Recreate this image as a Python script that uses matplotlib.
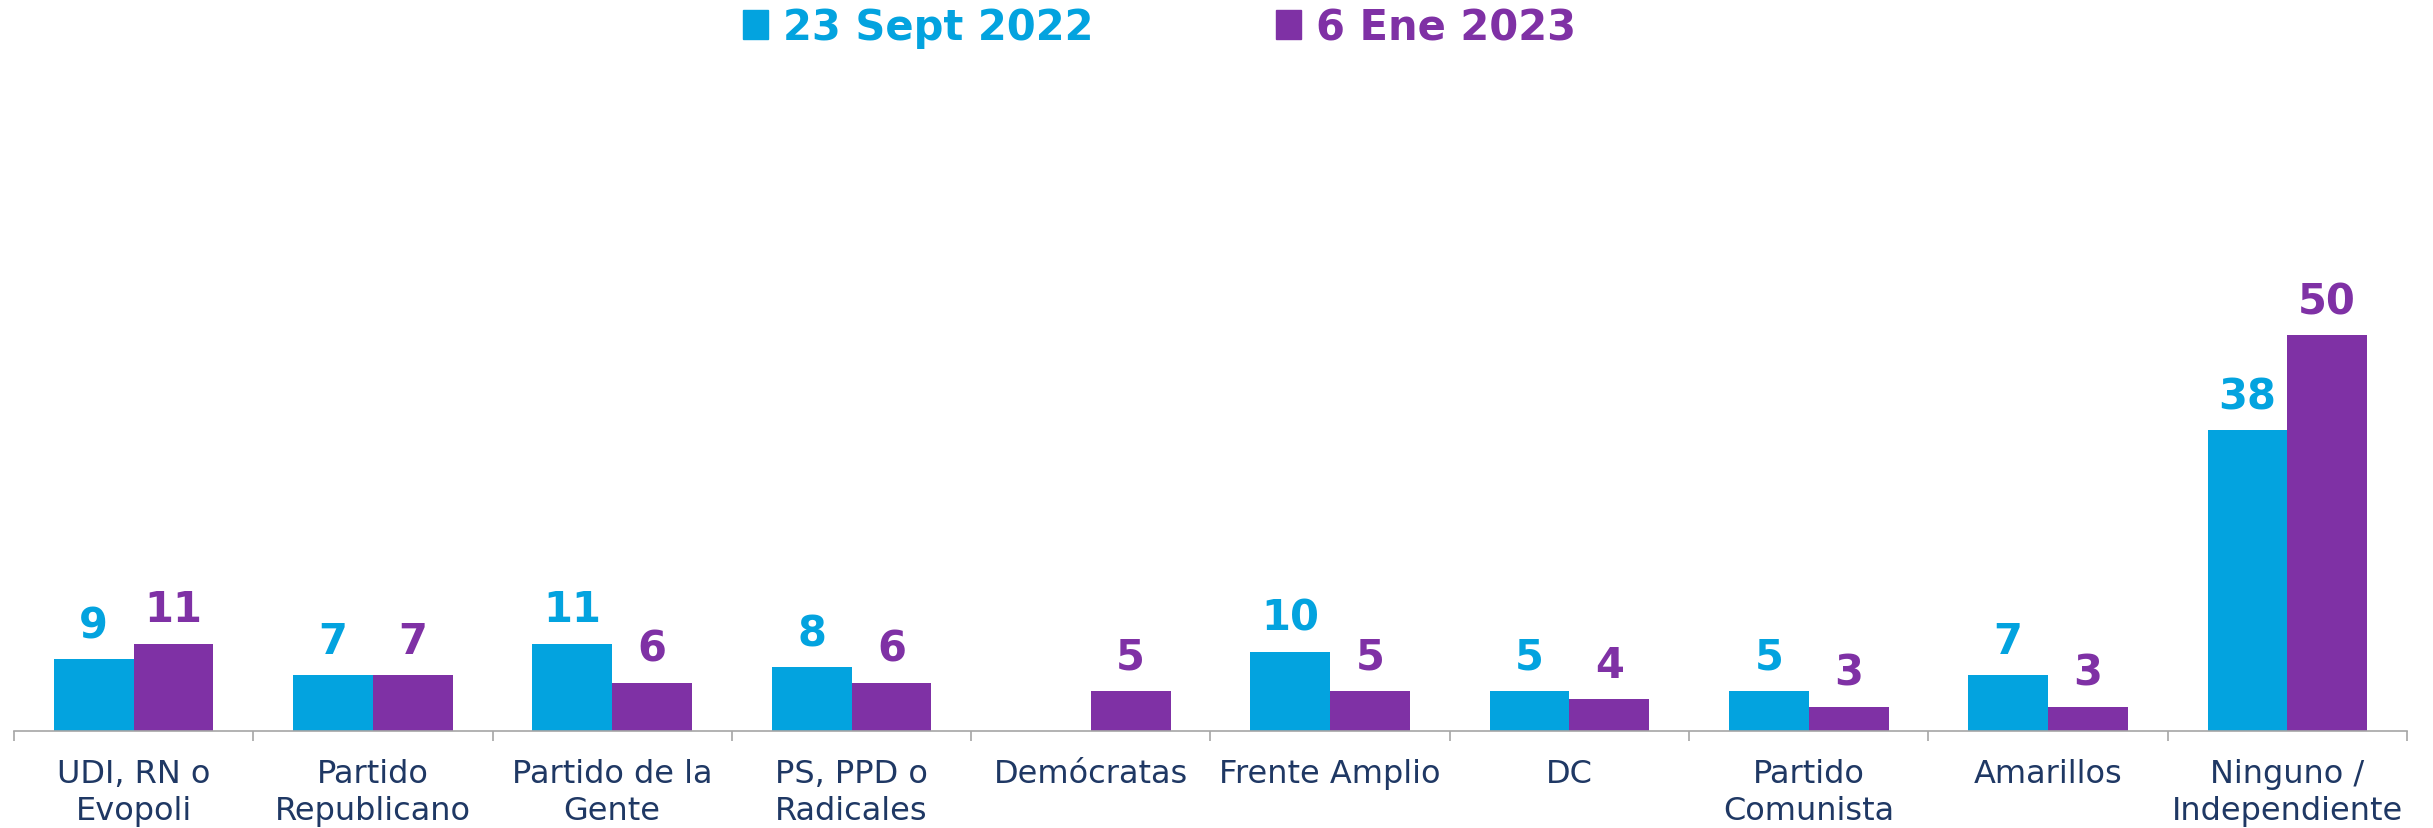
import numpy as np
import matplotlib
matplotlib.use('Agg')
import matplotlib.pyplot as plt
from matplotlib.patches import Patch

# Datos
categorias = ['UDI, RN o\nEvopoli', 'Partido\nRepublicano', 'Partido de la\nGente',
              'PS, PPD o\nRadicales', 'Demócratas', 'Frente Amplio', 'DC',
              'Partido\nComunista', 'Amarillos', 'Ninguno /\nIndependiente']
sept_2022 = [9, 7, 11, 8, np.nan, 10, 5, 5, 7, 38]
ene_2023 = [11, 7, 6, 6, 5, 5, 4, 3, 3, 50]
series_labels = ['23 Sept 2022', '6 Ene 2023']

color_cyan = '#03A3DF'
color_purple = '#7F31A5'
color_text = '#1F3864'
color_axis = '#A6A6A6'

plt.rcParams['font.family'] = ['DejaVu Sans']

fig = plt.figure(figsize=(24.33, 8.29), dpi=100)
ax = fig.add_axes([0.00575, 0.1176, 0.98356, 0.7624])

x = np.arange(len(categorias))
w = 1 / 3

b1 = ax.bar(x - w / 2, sept_2022, width=w, color=color_cyan)
b2 = ax.bar(x + w / 2, ene_2023, width=w, color=color_purple)

# Etiquetas de valores
for xs, vals, col in [(x - w / 2, sept_2022, color_cyan), (x + w / 2, ene_2023, color_purple)]:
    for xi, v in zip(xs, vals):
        if np.isnan(v):
            continue
        ax.annotate(f'{v:g}', (xi, v), xytext=(0, 16), textcoords='offset points',
                    ha='center', va='baseline', fontsize=30, fontweight='bold', color=col)

ax.set_xlim(-0.5, len(categorias) - 0.5)
ax.set_ylim(0, 80)

# Ejes
for s in ['left', 'top', 'right']:
    ax.spines[s].set_visible(False)
ax.spines['bottom'].set_color(color_axis)
ax.spines['bottom'].set_linewidth(1.2)
ax.set_yticks([])

ax.set_xticks(x)
ax.set_xticklabels(categorias, fontsize=23, color=color_text, linespacing=1.25)
ax.tick_params(axis='x', which='major', length=0, pad=19.5)
ax.set_xticks(np.arange(-0.5, len(categorias)), minor=True)
ax.tick_params(axis='x', which='minor', length=7.5, width=1.2, color=color_axis)

# Leyenda
handles = [Patch(color=color_cyan), Patch(color=color_purple)]
leg = fig.legend(handles, series_labels, loc='center', bbox_to_anchor=(0.4766, 0.966),
                 ncol=2, frameon=False, prop={'size': 30, 'weight': 'bold'},
                 handlelength=0.6, handleheight=0.7, handletextpad=0.35,
                 columnspacing=4.4)
for t, c in zip(leg.get_texts(), [color_cyan, color_purple]):
    t.set_color(c)

plt.savefig('out.png', dpi=100)
